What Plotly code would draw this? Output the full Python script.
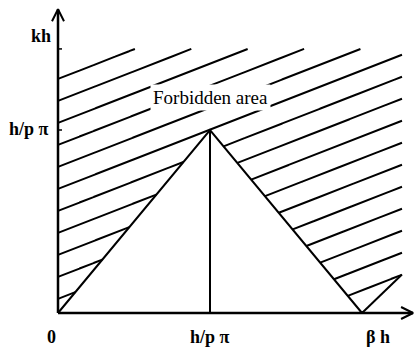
import numpy as np
import plotly.graph_objects as go

# Allowed triangle (0 .. h/p·π .. βh) and the hatched forbidden region above it
x_tick_vals = [0, 1, 2]
x_tick_text = ["0", "h/p π", "β h"]
x_tick_shift = [-7, 0, 16]
y_tick_vals = [1]
y_tick_text = ["h/p π"]

tri_x = [0, 1, 2]
tri_y = [0, 1, 0]
peak_x = [1, 1]
peak_y = [0, 1]
next_edge_x = [2, 2.263]
next_edge_y = [0, 0.21]

# hatching: parallel lines y = b + slope*x, b stepping down
hatch_top = 1.443
hatch_right = 2.263
hatch_slope = 0.324
hatch_first = 1.279
hatch_step = 0.1202
hatch_count = 17

label_text = "Forbidden area"
label_pos = (1.0, 1.175)

x_axis_end = 2.336
y_axis_end = 1.66

# pixel scale of one data unit (used for arrowheads / small ticks)
PX_X, PX_Y = 152.0, 183.0
W, H = 414, 348
ORIGIN_PX = (58, 313)

FONT = "Liberation Serif"

fig = go.Figure()

# hatch lines clipped to the region above the triangle
floor_x = tri_x + next_edge_x[1:]
floor_y = tri_y + next_edge_y[1:]
xs = np.linspace(0, hatch_right, 4000)
floor = np.interp(xs, floor_x, floor_y)
hx, hy = [], []
for k in range(hatch_count):
    b = hatch_first - k * hatch_step
    ys = b + hatch_slope * xs
    mask = (ys >= floor) & (ys <= hatch_top)
    run = False
    for xv, yv, m in zip(xs, ys, mask):
        if m:
            hx.append(float(xv)); hy.append(float(yv)); run = True
        elif run:
            hx.append(None); hy.append(None); run = False
    if run:
        hx.append(None); hy.append(None)

line_style = dict(color="black", width=2)
fig.add_trace(go.Scatter(x=hx, y=hy, mode="lines", line=line_style,
                         hoverinfo="skip", connectgaps=False))
fig.add_trace(go.Scatter(x=tri_x, y=tri_y, mode="lines", line=line_style))
fig.add_trace(go.Scatter(x=peak_x, y=peak_y, mode="lines", line=line_style))
fig.add_trace(go.Scatter(x=next_edge_x, y=next_edge_y, mode="lines", line=line_style))

# axes with open arrowheads
axis_style = dict(color="black", width=2.5)
fig.add_trace(go.Scatter(x=[0, x_axis_end], y=[0, 0], mode="lines", line=axis_style))
fig.add_trace(go.Scatter(x=[0, 0], y=[0, y_axis_end], mode="lines", line=axis_style))
arm_len, arm_half = 12, 6
fig.add_trace(go.Scatter(
    x=[x_axis_end - arm_len / PX_X, x_axis_end, x_axis_end - arm_len / PX_X, None,
       -arm_half / PX_X, 0, arm_half / PX_X],
    y=[arm_half / PX_Y, 0, -arm_half / PX_Y, None,
       y_axis_end - arm_len / PX_Y, y_axis_end, y_axis_end - arm_len / PX_Y],
    mode="lines", line=dict(color="black", width=2)))

# small tick marks on the vertical axis
tick_len = 4 / PX_X
tx, ty = [], []
for v in y_tick_vals + [hatch_top]:
    tx += [0, tick_len, None]
    ty += [v, v, None]
fig.add_trace(go.Scatter(x=tx, y=ty, mode="lines", line=dict(color="black", width=1.5)))

# tick labels
lab_font = dict(family=FONT, size=18, color="black")
for v, t, s in zip(x_tick_vals, x_tick_text, x_tick_shift):
    fig.add_annotation(x=v, y=0, text=f"<b>{t}</b>", showarrow=False,
                       xanchor="center", yanchor="top", xshift=s, yshift=-12,
                       font=lab_font)
for v, t in zip(y_tick_vals, y_tick_text):
    fig.add_annotation(x=0, y=v, text=f"<b>{t}</b>", showarrow=False,
                       xanchor="right", yanchor="middle", xshift=-7, yshift=1,
                       font=lab_font)
fig.add_annotation(x=0, y=1.514, text="<b>kh</b>", showarrow=False,
                   xanchor="right", yanchor="middle", xshift=-5, font=lab_font)

# region label on a white patch over the hatching
fig.add_annotation(x=label_pos[0], y=label_pos[1], text=label_text, showarrow=False,
                   bgcolor="white", borderpad=2,
                   font=dict(family=FONT, size=19, color="black"))

x_range = [-ORIGIN_PX[0] / PX_X, (W - ORIGIN_PX[0]) / PX_X]
y_range = [(ORIGIN_PX[1] - H) / PX_Y, ORIGIN_PX[1] / PX_Y]
fig.update_layout(
    width=W, height=H, margin=dict(l=0, r=0, t=0, b=0),
    paper_bgcolor="white", plot_bgcolor="white", showlegend=False,
    xaxis=dict(range=x_range, visible=False, fixedrange=True),
    yaxis=dict(range=y_range, visible=False, fixedrange=True),
)

fig.write_html("out.html")
